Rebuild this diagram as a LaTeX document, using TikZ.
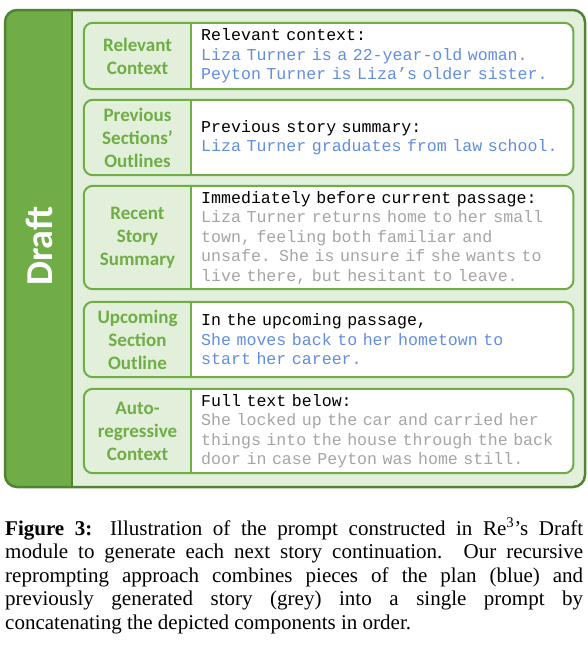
\documentclass[tikz,border=0pt]{standalone}
\usepackage{fontspec}
\setmainfont{Liberation Serif}
\setmonofont{Liberation Mono}
\newfontfamily\cardfont{Carlito}
\definecolor{labgreen}{RGB}{112,173,71}
\definecolor{darkgreen}{RGB}{84,130,53}
\definecolor{bglight}{RGB}{226,239,218}
\definecolor{planblue}{RGB}{98,142,222}
\definecolor{storygrey}{RGB}{165,165,165}
\begin{document}
\begin{tikzpicture}[x=1pt,y=-1pt]
        \tikzstyle{slotname}=[inner sep=0pt,minimum width=107pt,text width=104pt,align=center,text=labgreen,font=\cardfont\bfseries\fontsize{19}{23}\selectfont]
        \tikzstyle{slotbody}=[anchor=west,inner xsep=10pt,inner ysep=0pt,text width=362pt,align=left,font=\ttfamily\fontsize{16.6}{19.5}\selectfont]
        \tikzstyle{slotline}=[draw=labgreen,line width=2pt,rounded corners=9pt]
        \tikzstyle{frame}=[draw=darkgreen,line width=2.5pt,rounded corners=12pt]

        \useasboundingbox (0,0) rectangle (588,653);

        \fill[bglight,rounded corners=12pt] (5,10) rectangle (585,487);
        \begin{scope}
          \clip[rounded corners=12pt] (5,10) rectangle (585,487);
          \fill[labgreen] (5,10) rectangle (72,487);
        \end{scope}
        \draw[darkgreen,line width=2pt] (72,10) -- (72,487);
        \draw[frame] (5,10) rectangle (585,487);
        \node[rotate=90,text=white,font=\cardfont\bfseries\fontsize{38}{42}\selectfont] (draft) at (39,246) {Draft};

        \begin{scope}
          \clip[rounded corners=9pt] (84,23) rectangle (573,89) (84,100) rectangle (573,175)
               (84,186) rectangle (573,289) (84,302) rectangle (573,377) (84,389) rectangle (573,473);
          \fill[white] (191,20) rectangle (573,480);
        \end{scope}

        \node[slotname,minimum height=66pt] (n1) at (137.5,56) {Relevant\\Context};
        \node[slotbody,minimum height=66pt] (b1) at (191,56) {Relevant context:\\\color{planblue}Liza Turner is a 22-year-old woman.\\Peyton Turner is Liza’s older sister.};

        \node[slotname,minimum height=75pt] (n2) at (137.5,137.5) {Previous\\Sections’\\Outlines};
        \node[slotbody,minimum height=75pt] (b2) at (191,137.5) {Previous story summary:\\\color{planblue}Liza Turner graduates from law school.};

        \node[slotname,minimum height=103pt] (n3) at (137.5,237.5) {Recent\\Story\\Summary};
        \node[slotbody,minimum height=103pt] (b3) at (191,237.5) {Immediately before current passage:\\\color{storygrey}Liza Turner returns home to her small\\town, feeling both familiar and\\unsafe. She is unsure if she wants to\\live there, but hesitant to leave.};

        \node[slotname,minimum height=75pt] (n4) at (137.5,339.5) {Upcoming\\Section\\Outline};
        \node[slotbody,minimum height=75pt] (b4) at (191,339.5) {In the upcoming passage,\\\color{planblue}She moves back to her hometown to\\start her career.};

        \node[slotname,minimum height=84pt] (n5) at (137.5,431) {Auto-\\regressive\\Context};
        \node[slotbody,minimum height=84pt] (b5) at (191,431) {Full text below:\\\color{storygrey}She locked up the car and carried her\\things into the house through the back\\door in case Peyton was home still.};

        \draw[slotline] (n1.north west) rectangle (b1.south east);
        \draw[slotline] (n2.north west) rectangle (b2.south east);
        \draw[slotline] (n3.north west) rectangle (b3.south east);
        \draw[slotline] (n4.north west) rectangle (b4.south east);
        \draw[slotline] (n5.north west) rectangle (b5.south east);
        \draw[labgreen,line width=2pt] (n1.north east) -- (n1.south east) (n2.north east) -- (n2.south east)
             (n3.north east) -- (n3.south east) (n4.north east) -- (n4.south east) (n5.north east) -- (n5.south east);

        \node[anchor=base west,inner sep=0pt,text width=578pt,align=justify,font=\fontsize{21}{23.5}\selectfont] (caption) at (5,535)
             {\textbf{Figure 3:} Illustration of the prompt constructed in Re\textsuperscript{3}’s Draft\linebreak
              module to generate each next story continuation. Our recursive\linebreak
              reprompting approach combines pieces of the plan (blue) and\linebreak
              previously generated story (grey) into a single prompt by\linebreak
              concatenating the depicted components in order.};
\end{tikzpicture}
\end{document}
